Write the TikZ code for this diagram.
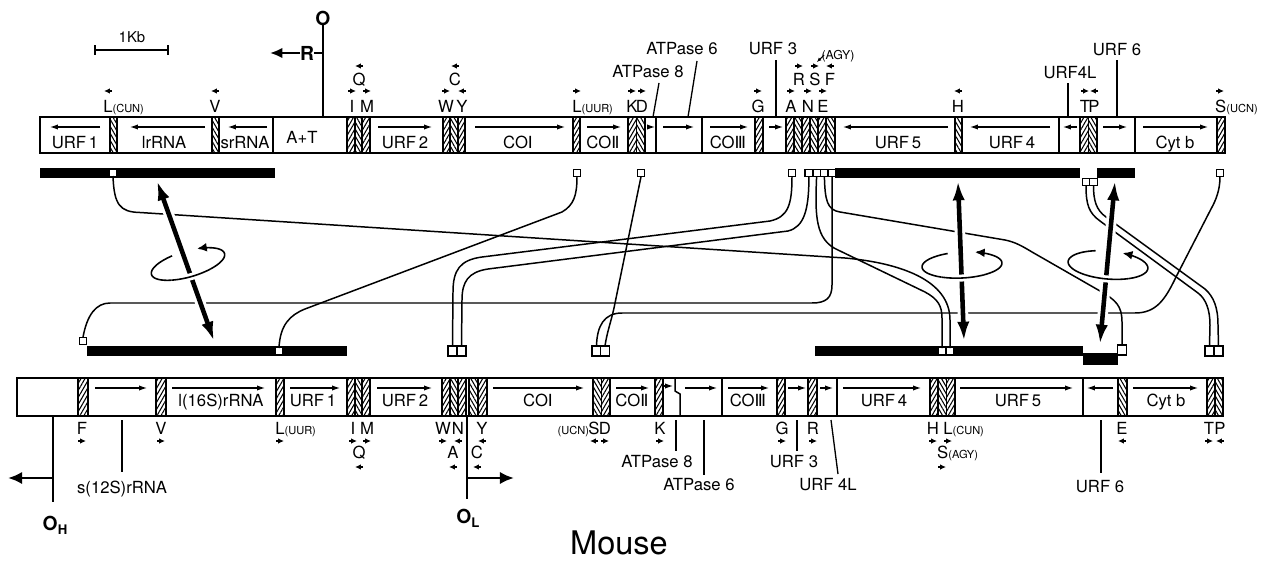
\documentclass[tikz,border=0pt]{standalone}
\usepackage{fontspec}
\setmainfont{TeX Gyre Heros}
\newfontfamily\dejavu{DejaVu Sans}
\usetikzlibrary{arrows.meta,patterns.meta}
\newcommand{\smtxt}[1]{{\fontsize{6.3}{7}\selectfont #1}}
\newcommand{\rmn}[1]{{\dejavu\fontsize{9.5}{10}\selectfont #1}}
\newcommand{\trna}[5]{\draw[line width=0.7pt, pattern={Lines[angle=#5,distance=2pt,line width=0.6pt]}] (#1,#3) rectangle (#2,#4);}
\newcommand{\gbox}[4]{\draw[gene] (#1,#3) rectangle (#2,#4);}
\newcommand{\trl}[6]{\node[tlab] (#1) at (#2,#3) {#4}; \draw[tarr] ({#2-4*(#6)},#5) -- ({#2+4*(#6)},#5);}
\newcommand{\spinell}[5]{%
  \draw[spin] plot[variable=\vv, domain=-250:70, samples=90, smooth]
    ({#1+#3*cos(\vv)*cos(#5)-#4*sin(\vv)*sin(#5)},{#2-#3*cos(\vv)*sin(#5)-#4*sin(\vv)*cos(#5)});
  \draw[line width=0.9pt, preaction={draw=white,line width=4pt}] plot[variable=\vv, domain=-122:-58, samples=20, smooth]
    ({#1+#3*cos(\vv)*cos(#5)-#4*sin(\vv)*sin(#5)},{#2-#3*cos(\vv)*sin(#5)-#4*sin(\vv)*cos(#5)});}
\begin{document}
\begin{tikzpicture}[x=0.02cm,y=-0.02cm,
 every node/.style={inner sep=0pt,outer sep=0pt},
 tlab/.style={anchor=base,font=\fontsize{9.5}{10}\selectfont},
 glab/.style={anchor=base,font=\fontsize{9.5}{11}\selectfont},
 gene/.style={draw,line width=0.85pt,fill=white},
 outer/.style={draw,line width=1.5pt},
 garr/.style={-{Latex[length=4.5pt,width=3pt]},line width=0.65pt},
 tarr/.style={-{Latex[length=3.4pt,width=3.2pt]},line width=1pt},
 conn/.style={line width=0.85pt},
 lead/.style={line width=0.75pt},
 sq/.style={draw,line width=0.75pt,fill=white,minimum width=0.15cm,minimum height=0.15cm},
 sqb/.style={draw,line width=0.75pt,fill=white,minimum width=0.18cm,minimum height=0.2cm},
 wsq/.style={fill=white,minimum width=0.11cm,minimum height=0.12cm},
 bigarr/.style={{Latex[length=11pt,width=7pt]}-{Latex[length=11pt,width=7pt]},line width=2.6pt},
 halo/.style={draw=white,line width=6pt,shorten <=11pt,shorten >=11pt},
 spin/.style={-{Latex[length=5.5pt,width=5pt]},line width=0.9pt},
 bold/.style={anchor=base,font=\fontsize{11}{12}\selectfont\bfseries}]
\fill[white] (0,0) rectangle (1272,561);
\useasboundingbox (0,0) rectangle (1272,561);

% scale bar
\draw[line width=1.3pt] (95,50) -- (168,50);
\draw[line width=1.3pt] (95,45) -- (95,55) (168,45) -- (168,55);
\node[anchor=base,font=\fontsize{8.5}{9}\selectfont] (kb) at (132,42) {1Kb};

% ================= TOP BAR =================
\gbox{40}{110}{117}{153}
\gbox{117}{212}{117}{153}
\gbox{219}{273}{117}{153}
\gbox{273}{347}{117}{153}
\gbox{370}{443}{117}{153}
\gbox{465}{573}{117}{153}
\gbox{580}{628}{117}{153}
\gbox{645}{656}{117}{153}
\gbox{656}{702}{117}{153}
\gbox{702}{755}{117}{153}
\gbox{763}{786}{117}{153}
\gbox{835}{955}{117}{153}
\gbox{962}{1059}{117}{153}
\gbox{1059}{1080}{117}{153}
\gbox{1097}{1135}{117}{153}
\gbox{1135}{1217}{117}{153}
\trna{110}{117}{117}{153}{120}
\trna{212}{219}{117}{153}{120}
\trna{347}{355}{117}{153}{60}
\trna{355}{362}{117}{153}{120}
\trna{362}{370}{117}{153}{60}
\trna{443}{450}{117}{153}{60}
\trna{450}{458}{117}{153}{120}
\trna{458}{465}{117}{153}{60}
\trna{573}{580}{117}{153}{60}
\trna{628}{636.5}{117}{153}{60}
\trna{636.5}{645}{117}{153}{120}
\trna{755}{763}{117}{153}{60}
\trna{786}{794}{117}{153}{60}
\trna{794}{802}{117}{153}{120}
\trna{802}{810}{117}{153}{60}
\trna{810}{818}{117}{153}{120}
\trna{818}{826}{117}{153}{60}
\trna{826}{835}{117}{153}{120}
\trna{955}{962}{117}{153}{120}
\trna{1080}{1088.5}{117}{153}{60}
\trna{1088.5}{1097}{117}{153}{120}
\trna{1217}{1225}{117}{153}{60}
\draw[outer] (40,117) rectangle (1225,153);

% gene arrows top
\draw[garr] (100,127) -- (50,127);
\draw[garr] (205,127) -- (130,127);
\draw[garr] (267,127) -- (228,127);
\draw[garr] (378,127) -- (432,127);
\draw[garr] (475,127) -- (565,127);
\draw[garr] (587,127) -- (621,127);
\draw[garr] (647,127) -- (655,127);
\draw[garr] (663,127) -- (694,127);
\draw[garr] (710,127) -- (748,127);
\draw[garr] (769,127) -- (783,127);
\draw[garr] (948,127) -- (843,127);
\draw[garr] (1050,127) -- (970,127);
\draw[garr] (1077,127) -- (1063,127);
\draw[garr] (1103,127) -- (1127,127);
\draw[garr] (1143,127) -- (1208,127);

% gene names top
\node[glab] (gURF1t) at (75,148) {URF\,1};
\node[glab] (glrt) at (164,148) {lrRNA};
\node[glab] (gsrt) at (245,148) {srRNA};
\node[glab] (gATt) at (302,143) {A+T};
\node[glab] (gURF2t) at (405,148) {URF\,2};
\node[glab] (gCO1t) at (518,148) {CO\rmn{Ⅰ}};
\node[glab] (gCO2t) at (603,148) {CO\rmn{Ⅱ}};
\node[glab] (gCO3t) at (728,148) {CO\rmn{Ⅲ}};
\node[glab] (gURF5t) at (898,148) {URF\,5};
\node[glab] (gURF4t) at (1012,148) {URF\,4};
\node[glab] (gCytt) at (1175,148) {Cyt b};

% tRNA labels top
\node[tlab,anchor=base west] (lLCUNt) at (103.3,112) {L\smtxt{(CUN)}};
\draw[tarr] (112,91) -- (104,91);
\trl{lVt}{215}{112}{V}{91}{-1}
\trl{lIt}{352}{112}{I}{91}{1}
\trl{lMt}{367}{112}{M}{91}{1}
\trl{lQt}{359}{85}{Q}{66}{-1}
\trl{lWt}{446}{112}{W}{91}{1}
\trl{lYt}{462}{112}{Y}{91}{-1}
\trl{lCt}{455}{85}{C}{66}{-1}
\node[tlab,anchor=base west] (lLUURt) at (572.3,112) {L\smtxt{(UUR)}};
\draw[tarr] (573,91) -- (581,91);
\trl{lKt}{632}{112}{K}{91}{1}
\trl{lDt}{642}{112}{D}{91}{1}
\trl{lGt}{758}{112}{G}{91}{1}
\trl{lAt}{791}{112}{A}{91}{1}
\trl{lNt}{808}{112}{N}{91}{1}
\trl{lEt}{823}{112}{E}{91}{1}
\trl{lRt}{799}{85}{R}{66}{1}
\trl{lSt}{815}{85}{S}{66}{1}
\trl{lFt}{830}{85}{F}{66}{-1}
\node[anchor=base,font=\fontsize{7}{8}\selectfont] (agy) at (838,59) {(AGY)};
\draw[-{Latex[length=2.5pt,width=2.2pt]},line width=0.6pt] (824,55) -- (817,62);
\trl{lHt}{958}{112}{H}{91}{-1}
\trl{lTt}{1085}{112}{T}{91}{1}
\trl{lPt}{1094}{112}{P}{91}{-1}
\node[tlab,anchor=base west] (lSUCNt) at (1215.2,112) {S\smtxt{(UCN)}};
\draw[tarr] (1216,91) -- (1224,91);

% leader labels top
\node[glab] (a8t) at (648,77) {ATPase 8};
\draw[lead] (659,83) -- (653,117);
\node[glab] (a6t) at (682,54) {ATPase 6};
\draw[lead] (697,61) -- (688,117);
\node[glab] (u3t) at (773,54) {URF 3};
\draw[lead] (776,60) -- (776,117);
\node[glab] (u4lt) at (1070,78) {URF4L};
\draw[lead] (1068,83) -- (1068,117);
\node[glab] (u6t) at (1117,55) {URF 6};
\draw[lead] (1117,60) -- (1117,117);

% O and R
\node[bold,anchor=center] (Otop) at (323,18) {O};
\draw[line width=1.3pt] (Otop.south) -- (323,117);
\node[bold,anchor=center] (Rl) at (307,53) {R};
\draw[-{Latex[length=7pt,width=6pt]},line width=1.2pt] (Rl.west) -- (270,53);
\draw[line width=1pt] (Rl.east) -- (323,53);

% ================= BOTTOM BAR =================
\gbox{17}{78}{378}{416}
\gbox{88}{156}{378}{416}
\gbox{166}{276}{378}{416}
\gbox{284}{347}{378}{416}
\gbox{370}{442}{378}{416}
\gbox{466}{469}{378}{416}
\gbox{487}{593}{378}{416}
\gbox{610}{655}{378}{416}
\gbox{663}{722}{378}{416}
\gbox{722}{777}{378}{416}
\gbox{785}{808}{378}{416}
\gbox{817}{837}{378}{416}
\gbox{837}{930}{378}{416}
\gbox{955}{1083}{378}{416}
\gbox{1083}{1118}{378}{416}
\gbox{1127}{1207}{378}{416}
\trna{78}{88}{378}{416}{60}
\trna{156}{166}{378}{416}{60}
\trna{276}{284}{378}{416}{60}
\trna{347}{355}{378}{416}{60}
\trna{355}{362}{378}{416}{120}
\trna{362}{370}{378}{416}{60}
\trna{442}{450}{378}{416}{60}
\trna{450}{458}{378}{416}{120}
\trna{458}{466}{378}{416}{60}
\trna{469}{478}{378}{416}{120}
\trna{478}{487}{378}{416}{60}
\trna{593}{601.5}{378}{416}{120}
\trna{601.5}{610}{378}{416}{60}
\trna{655}{663}{378}{416}{60}
\trna{777}{785}{378}{416}{60}
\trna{808}{817}{378}{416}{60}
\trna{930}{938}{378}{416}{60}
\trna{938}{946.5}{378}{416}{120}
\trna{946.5}{955}{378}{416}{60}
\trna{1118}{1127}{378}{416}{120}
\trna{1207}{1215}{378}{416}{60}
\trna{1215}{1223}{378}{416}{120}
\draw[outer] (17,378) rectangle (1223,416);
\draw[line width=0.85pt] (675,378) -- (675,391) -- (680,394) -- (680,416);

% gene arrows bottom
\draw[garr] (95,388) -- (147,388);
\draw[garr] (172,388) -- (265,388);
\draw[garr] (290,388) -- (340,388);
\draw[garr] (377,388) -- (432,388);
\draw[garr] (493,388) -- (584,388);
\draw[garr] (616,388) -- (649,388);
\draw[garr] (664,386) -- (673,386);
\draw[garr] (685,388) -- (717,388);
\draw[garr] (728,388) -- (769,388);
\draw[garr] (788,388) -- (806,388);
\draw[garr] (820,388) -- (833,388);
\draw[garr] (843,388) -- (921,388);
\draw[garr] (960,388) -- (1073,388);
\draw[garr] (1113,388) -- (1087,388);
\draw[garr] (1133,388) -- (1198,388);

% gene names bottom
\node[glab] (gl16b) at (221,406) {l(16S)rRNA};
\node[glab] (gURF1b) at (313,406) {URF\,1};
\node[glab] (gURF2b) at (405,406) {URF\,2};
\node[glab] (gCO1b) at (538,406) {CO\rmn{Ⅰ}};
\node[glab] (gCO2b) at (632,406) {CO\rmn{Ⅱ}};
\node[glab] (gCO3b) at (748,406) {CO\rmn{Ⅲ}};
\node[glab] (gURF4b) at (884,406) {URF\,4};
\node[glab] (gURF5b) at (1018,406) {URF\,5};
\node[glab] (gCytb) at (1166,406) {Cyt b};

% tRNA labels bottom
\trl{lFb}{82}{434}{F}{441}{1}
\trl{lVb}{161}{434}{V}{441}{1}
\node[tlab,anchor=base west] (lLUURb) at (275.3,434) {L\smtxt{(UUR)}};
\draw[tarr] (276,441) -- (284,441);
\trl{lIb}{353}{434}{I}{441}{1}
\trl{lMb}{367}{434}{M}{441}{1}
\trl{lQb}{359}{458}{Q}{467}{-1}
\trl{lWb}{443}{434}{W}{441}{1}
\trl{lNb}{458}{434}{N}{441}{-1}
\trl{lAb}{453}{458}{A}{467}{-1}
\trl{lYb}{482}{434}{Y}{441}{-1}
\trl{lCb}{477}{458}{C}{467}{-1}
\node[anchor=base east,font=\fontsize{6.3}{7}\selectfont] (ucnb) at (589,434) {(UCN)};
\trl{lSb}{594}{434}{S}{441}{-1}
\trl{lDb}{605}{434}{D}{441}{1}
\trl{lKb}{660}{434}{K}{441}{1}
\trl{lGb}{782}{434}{G}{441}{1}
\trl{lRb}{813}{434}{R}{441}{1}
\trl{lHb}{933}{434}{H}{441}{1}
\node[tlab,anchor=base west] (lLCUNb) at (943.3,434) {L\smtxt{(CUN)}};
\draw[tarr] (944,441) -- (952,441);
\node[tlab,anchor=base west] (lSAGYb) at (937.2,458) {S\smtxt{(AGY)}};
\draw[tarr] (938,467) -- (946,467);
\trl{lEb}{1122}{434}{E}{441}{-1}
\trl{lTb}{1209}{434}{T}{441}{1}
\trl{lPb}{1220}{434}{P}{441}{-1}

% leader labels bottom
\node[glab] (s12b) at (122,493) {s(12S)rRNA};
\draw[lead] (122,420) -- (122,472);
\node[glab] (a8b) at (657,467) {ATPase 8};
\draw[lead] (676,420) -- (676,451);
\node[glab] (a6b) at (699,490) {ATPase 6};
\draw[lead] (704,420) -- (704,475);
\node[glab] (u3b) at (794,467) {URF 3};
\draw[lead] (797,420) -- (797,451);
\node[glab] (u4lb) at (828,490) {URF 4L};
\draw[lead] (831,420) -- (838,474);
\node[glab] (u6b) at (1100,492) {URF 6};
\draw[lead] (1101,420) -- (1101,473);

% O_H and O_L
\draw[line width=1.4pt] (53,416) -- (53,502);
\draw[-{Latex[length=8pt,width=7pt]},line width=1.4pt] (53,478) -- (8,478);
\node[bold] (OH) at (55,530) {O\raisebox{-2.5pt}{\fontsize{7.5}{8}\selectfont\bfseries H}};
\draw[line width=1.4pt] (467,416) -- (467,499);
\draw[-{Latex[length=8pt,width=7pt]},line width=1.4pt] (467,478) -- (514,478);
\node[bold] (OL) at (468,523) {O\raisebox{-2.5pt}{\fontsize{7.5}{8}\selectfont\bfseries L}};

\node[anchor=base,font=\fontsize{18.5}{20}\selectfont] (mouse) at (619,554) {Mouse};

% ================= black bars and squares =================
\fill (40,168) rectangle (275,178);
\fill (835,168) rectangle (1080,178);
\fill (1097,168) rectangle (1135,178);
\fill (87,346) rectangle (347,356);
\fill (815,346) rectangle (1083,356);
\fill (1083,353) rectangle (1118,365);

\node[wsq] (tLCUN) at (113,173) {};
\node[sq] (tLUUR) at (577,173) {};
\node[sq] (tD) at (641,173) {};
\node[sq] (tA) at (792,173) {};
\node[sq] (tN) at (808.9,173) {};
\node[sq] (tS) at (816.6,173) {};
\node[sq] (tE) at (824.4,173) {};
\node[sq] (tF) at (832.1,173) {};
\node[sq] (tSUCN) at (1220,173) {};
\node[sq] (tT) at (1086,182) {};
\node[sq] (tP) at (1093.5,182) {};

\node[sq] (bF) at (83,341) {};
\node[wsq] (bLUUR) at (279,351) {};
\node[sqb] (bA) at (452.5,351) {};
\node[sqb] (bN) at (461.5,351) {};
\node[sqb] (bS) at (596.5,351) {};
\node[sqb] (bD) at (605,351) {};
\node[wsq] (bSAGY) at (942,351) {};
\node[wsq] (bLCUN) at (950,351) {};
\node[sqb] (bE) at (1122,350) {};
\node[sqb] (bT) at (1209.5,351) {};
\node[sqb] (bP) at (1218.5,351) {};

% ================= connectors =================
\draw[conn] (tLCUN.south) .. controls (114,205) and (120,212) .. (140,212.5) -- (845,258) .. controls (900,263) and (950,280) .. (950,320) -- (bLCUN.north);
\draw[conn] (tLUUR.south) .. controls (577,195) and (574,205) .. (562,212) -- (305,309) .. controls (290,315) and (280,325) .. (bLUUR.north);
\draw[conn] (tD.south) -- (614,308) .. controls (611,322) and (607,332) .. (bD.north);
\draw[conn] (tA.south) .. controls (792,205) and (788,217) .. (770,221) -- (482,257) .. controls (460,260) and (453,270) .. (453,292) -- (bA.north);
\draw[conn] (tN.south) .. controls (809,210) and (804,227) .. (788,231) -- (488,269) .. controls (468,272) and (462,282) .. (462,300) -- (bN.north);
\draw[conn] (tS.south) .. controls (815,215) and (815,240) .. (838,250) -- (925,292) .. controls (938,299) and (942,306) .. (942,318) -- (bSAGY.north);
\draw[conn] (tE.south) .. controls (825,200) and (827,210) .. (840,212) -- (1005,240) .. controls (1015,242) and (1022,246) .. (1032,252) -- (1100,291) .. controls (1116,300) and (1122,306) .. (1122,322) -- (bE.north);
\draw[conn] (tF.south) -- (832,285) .. controls (832,298) and (826,303) .. (812,303) -- (110,303) .. controls (96,303) and (87,315) .. (bF.north);
\draw[conn] (tSUCN.south) .. controls (1220,190) and (1216,200) .. (1211,209) -- (1176,277) .. controls (1165,300) and (1156,313) .. (1135,313) -- (622,313) .. controls (604,313) and (597,326) .. (bS.north);
\draw[conn] (tT.south) .. controls (1086,205) and (1089,213) .. (1100,221) -- (1198,293) .. controls (1206,299) and (1210,310) .. (1210,325) -- (bT.north);
\draw[conn] (tP.south) .. controls (1093.5,200) and (1096,210) .. (1106,217) -- (1205,289) .. controls (1214,297) and (1218,308) .. (1218,325) -- (bP.north);

% ================= rotation arrows =================
\coordinate (a1t) at (157,181); \coordinate (a1b) at (214,341);
\coordinate (a2t) at (958,181); \coordinate (a2b) at (964,341);
\coordinate (a3t) at (1115,181); \coordinate (a3b) at (1100,344);
\draw[halo] (a1t) -- (a1b);
\draw[halo] (a2t) -- (a2b);
\draw[halo] (a3t) -- (a3b);
\draw[bigarr] (a1t) -- (a1b);
\draw[bigarr] (a2t) -- (a2b);
\draw[bigarr] (a3t) -- (a3b);
\spinell{188}{264}{38}{13}{16}
\spinell{962}{265}{40}{13}{3}
\spinell{1108}{265}{40}{14}{-5}
\end{tikzpicture}
\end{document}
